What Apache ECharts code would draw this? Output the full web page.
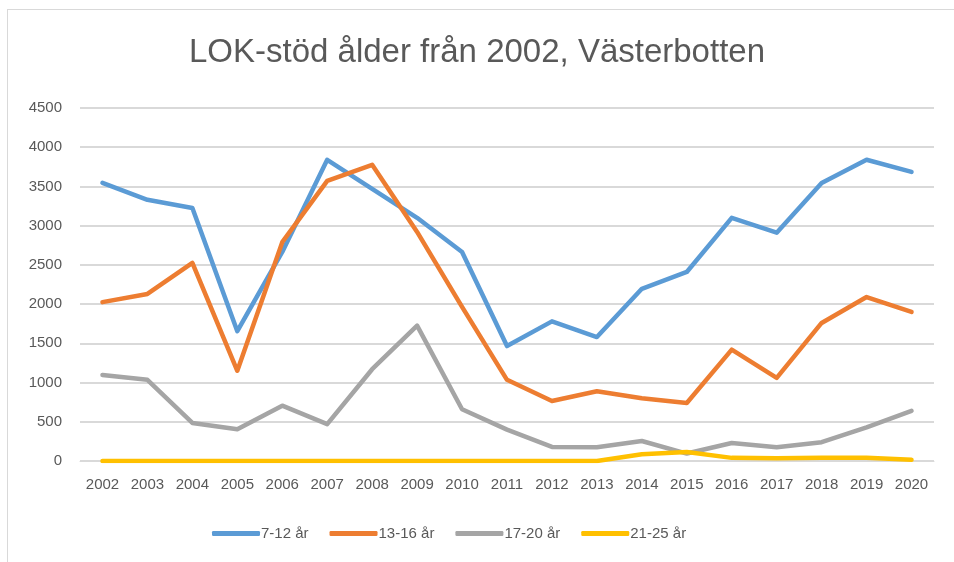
<!DOCTYPE html>
<html>
<head>
<meta charset="utf-8">
<script src="https://cdn.jsdelivr.net/npm/echarts@6/dist/echarts.min.js"></script>
<style>
  html, body { margin: 0; padding: 0; background: #fff; overflow: hidden; }
  #frame { position: absolute; left: 7px; top: 9px; width: 1000px; height: 600px; border: 1px solid #d9d9d9; }
  #chart { position: absolute; left: 0; top: 0; width: 954px; height: 562px; }
</style>
</head>
<body>
<div id="frame"></div>
<div id="chart"></div>
<script>
// år på x-axeln
const years = ['2002', '2003', '2004', '2005', '2006', '2007', '2008', '2009', '2010', '2011',
  '2012', '2013', '2014', '2015', '2016', '2017', '2018', '2019', '2020']
const seriesNames = ['7-12 år', '13-16 år', '17-20 år', '21-25 år']

// avlästa värden
const age7to12 = [3545, 3330, 3225, 1655, 2665, 3840, 3470, 3100, 2665, 1465,
  1780, 1580, 2195, 2410, 3100, 2910, 3545, 3840, 3685]
const age13to16 = [2025, 2130, 2525, 1150, 2790, 3570, 3775, 2920, 1965, 1035,
  765, 890, 800, 740, 1420, 1060, 1760, 2090, 1900]
const age17to20 = [1095, 1035, 485, 405, 705, 470, 1170, 1725, 660, 400,
  180, 175, 255, 95, 230, 175, 240, 430, 640]
const age21to25 = [0, 0, 0, 0, 0, 0, 0, 0, 0, 0,
  0, 0, 85, 115, 40, 35, 40, 40, 15]

const yTicks = [0, 500, 1000, 1500, 2000, 2500, 3000, 3500, 4000, 4500]

const colors = ['#5B9BD5', '#ED7D31', '#A5A5A5', '#FFC000']
const font = "'Liberation Sans', 'Open Sans', sans-serif"

const chart = echarts.init(document.getElementById('chart'))

const allData = [age7to12, age13to16, age17to20, age21to25]

chart.setOption({
  animation: false,
  title: {
    text: 'LOK-stöd ålder från 2002, Västerbotten',
    left: 'center',
    top: 31,
    textStyle: { color: '#595959', fontSize: 33, fontWeight: 'normal', fontFamily: font }
  },
  legend: {
    data: seriesNames,
    bottom: 16,
    left: 207,
    itemGap: 21,
    itemWidth: 48,
    itemHeight: 5,
    icon: 'roundRect',
    textStyle: { color: '#595959', fontSize: 15, fontFamily: font, padding: [0, 0, 0, -4] }
  },
  grid: { left: 80, right: 20, top: 108, bottom: 101 },
  xAxis: {
    type: 'category',
    data: years,
    boundaryGap: true,
    axisTick: { show: false },
    axisLine: { lineStyle: { color: '#d9d9d9', width: 1 } },
    axisLabel: { color: '#595959', fontSize: 15, fontFamily: font, margin: 16 }
  },
  yAxis: {
    type: 'value',
    min: yTicks[0],
    max: yTicks[yTicks.length - 1],
    interval: 500,
    axisLine: { show: false },
    axisTick: { show: false },
    axisLabel: { color: '#595959', fontSize: 15, fontFamily: font, margin: 18, formatter: v => String(v) },
    splitLine: { lineStyle: { color: '#d9d9d9', width: 2 } }
  },
  series: seriesNames.map((name, i) => ({
    name: name,
    type: 'line',
    data: allData[i],
    symbol: 'none',
    z: 2 + i,
    lineStyle: { color: colors[i], width: 4.5, cap: 'round', join: 'round' },
    itemStyle: { color: colors[i] }
  }))
})
</script>
</body>
</html>
